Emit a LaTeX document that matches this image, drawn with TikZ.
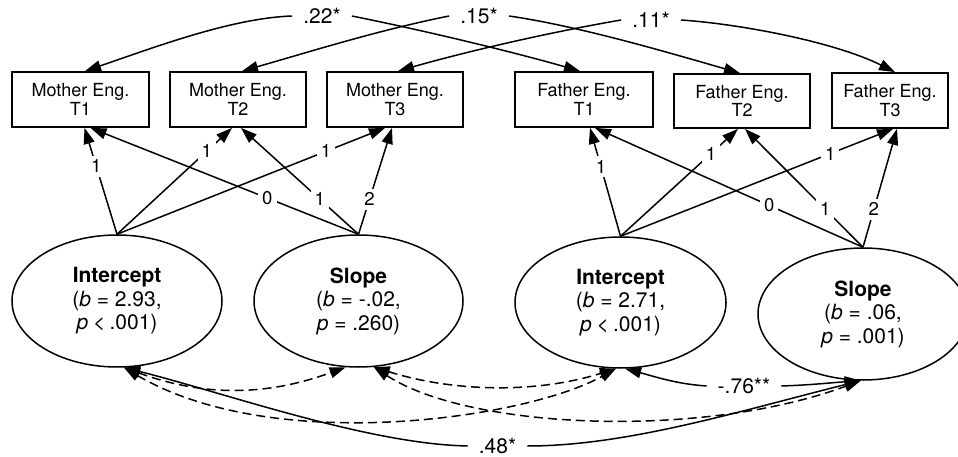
\documentclass[tikz,border=0pt]{standalone}
\usepackage{fontspec}
\setmainfont{TeX Gyre Heros}
\usetikzlibrary{shapes.geometric,arrows.meta,calc}

\newcommand{\ltsign}{\kern-1pt<\kern-1.5pt}

\begin{document}
\begin{tikzpicture}[x=1pt,y=-1pt,
  obs/.style={draw, line width=1.8pt, minimum width=137pt, minimum height=55pt,
    inner sep=0pt, align=center, font=\fontsize{18}{18.5}\selectfont},
  lat/.style={draw, ellipse, line width=1.5pt, minimum width=210pt, minimum height=132pt,
    inner sep=0pt, align=center, font=\fontsize{21}{23.5}\selectfont},
  tipend/.style={line width=1.5pt, -{Triangle[length=16pt,width=11pt]}},
  tipboth/.style={line width=1.5pt, {Triangle[length=16pt,width=11pt]}-{Triangle[length=16pt,width=11pt]}},
  covdash/.style={dash pattern=on 9pt off 5pt},
  load/.style={fill=white, inner sep=4pt, font=\fontsize{18.5}{18.5}\selectfont},
  coef/.style={inner xsep=11pt, inner ysep=2pt, font=\fontsize{21}{21}\selectfont},
]
\useasboundingbox (0,0) rectangle (958,457);
\clip (0,0) rectangle (958,457);

% observed indicators
\node[obs] (m1) at (80.5,99.5) {Mother Eng.\\T1};
\node[obs, minimum width=136pt] (m2) at (238,99.5) {Mother Eng.\\T2};
\node[obs, minimum width=136pt] (m3) at (395,99.5) {Mother Eng.\\T3};
\node[obs, minimum width=138pt] (f1) at (584,99.5) {Father Eng.\\T1};
\node[obs, minimum width=136pt, minimum height=54pt] (f2) at (742,101) {Father Eng.\\T2};
\node[obs, minimum width=116pt] (f3) at (890,100.5) {Father Eng.\\T3};

% latent growth factors
\node[lat] (il) at (117,301) {\bfseries Intercept\\(\textit{b} = 2.93,\\\textit{p} \ltsign\ .001)};
\node[lat, minimum width=209pt] (sl) at (358.5,301) {\bfseries Slope\\(\textit{b} = -.02,\\\textit{p} = .260)};
\node[lat, minimum width=211pt, minimum height=131pt] (ir) at (620.5,302.5) {\bfseries Intercept\\(\textit{b} = 2.71,\\\textit{p} \ltsign\ .001)};
\node[lat] (sr) at (863,314) {\bfseries Slope\\(\textit{b} = .06,\\\textit{p} = .001)};

% factor loadings, mother
\draw[tipend] (il.north) -- ($(m1.south)+(4,0)$) node[load,pos=0.64]{1};
\draw[tipend] (il.north) -- ($(m2.south)+(-6,0)$) node[load,pos=0.78]{1};
\draw[tipend] (il.north) -- ($(m3.south)+(-10,0)$) node[load,pos=0.78]{1};
\draw[tipend] (sl.north) -- ($(m1.south)+(10,0)$) node[load,pos=0.34]{0};
\draw[tipend] (sl.north) -- ($(m2.south)+(3,0)$) node[load,pos=0.33]{1};
\draw[tipend] (sl.north) -- ($(m3.south)+(-3,0)$) node[load,pos=0.33]{2};

% factor loadings, father
\draw[tipend] (ir.north) -- ($(f1.south)+(6,0)$) node[load,pos=0.64]{1};
\draw[tipend] (ir.north) -- ($(f2.south)+(-4,0)$) node[load,pos=0.77]{1};
\draw[tipend] (ir.north) -- ($(f3.south)+(3,0)$) node[load,pos=0.77]{1};
\draw[tipend] (sr.north) -- ($(f1.south)+(11,0)$) node[load,pos=0.35]{0};
\draw[tipend] (sr.north) -- ($(f2.south)+(3,0)$) node[load,pos=0.32]{1};
\draw[tipend] (sr.north) -- ($(f3.south)+(7,0)$) node[load,pos=0.32]{2};

% residual covariances across parents
\node[coef] (c22) at (322,16) {.22*};
\node[coef] (c15) at (479,16) {.15*};
\node[coef] (c11) at (651,20) {.11*};
\draw[tipend] (c22.west) .. controls +(-60,2) and +(70,-24) .. ($(m1.north)+(4.5,0)$);
\draw[tipend] (c22.east) .. controls +(70,14) and +(-70,-20) .. ($(f1.north)+(-4,0)$);
\draw[tipend] (c15.west) .. controls +(-70,14) and +(70,-20) .. ($(m2.north)+(4,0)$);
\draw[tipend] (c15.east) .. controls +(70,10) and +(-70,-20) .. ($(f2.north)+(-2,0)$);
\draw[tipend] (c11.west) .. controls +(-70,12) and +(70,-20) .. ($(m3.north)+(3,0)$);
\draw[tipend] (c11.east) .. controls +(60,4) and +(-60,-30) .. ($(f3.north)+(5,0)$);

% covariances among growth factors
\draw[tipboth, covdash] (il.-84) .. controls +(80,29) and +(-80,29) .. (sl.-101);
\draw[tipboth, covdash] (il.-84) .. controls +(150,88) and +(-90,50) .. (ir.-94);
\draw[tipboth, covdash] (sl.-77) .. controls +(95,62) and +(-160,59) .. (sr.-92);
\draw[tipboth, covdash] (sl.-77) .. controls +(80,25) and +(-80,25) .. (ir.-94);

\node[coef] (c76) at (744,386) {-.76**};
\draw[tipend] (c76.west) .. controls +(-30,-2) and +(30,8) .. (ir.-86);
\draw[tipend] (c76.east) .. controls +(30,-1) and +(-30,2) .. (sr.-92);

\node[coef] (c48) at (497.5,446) {.48*};
\draw[tipend] (c48.west) .. controls +(-100,-2) and +(100,25) .. (il.-84);
\draw[tipend] (c48.east) .. controls +(100,0) and +(-120,30) .. (sr.-92);
\end{tikzpicture}
\end{document}
